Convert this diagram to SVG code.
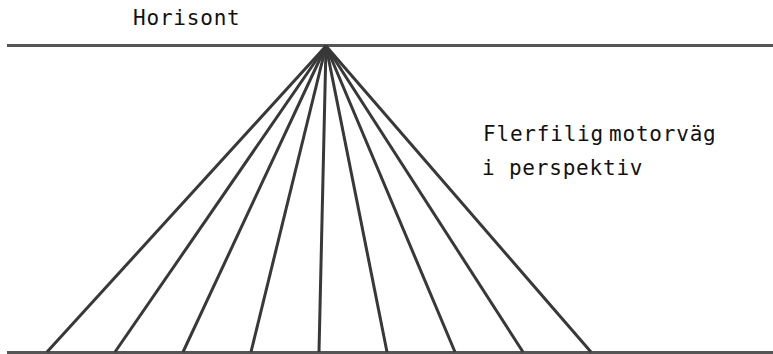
<svg xmlns="http://www.w3.org/2000/svg" width="773" height="354" viewBox="0 0 773 354">
<style>
.edge{stroke:#555;stroke-width:3;fill:none}
.ray{stroke:#383838;stroke-width:3;fill:none}
.lbl{font-family:"DejaVu Sans Mono","Liberation Mono",monospace;fill:#111;font-size:21px;letter-spacing:0.8px}
</style>
<rect width="773" height="354" fill="#fff"/>
<g id="horizon">
<line class="edge" x1="7" y1="45.5" x2="773" y2="45.5"/>
<text class="lbl" x="133" y="25">Horisont</text>
</g>
<g id="ground">
<line class="edge" x1="7" y1="352.5" x2="773" y2="352.5"/>
</g>
<g id="label">
<text class="lbl" x="483" y="141">Flerfilig <tspan x="609">motorväg</tspan></text>
<text class="lbl" x="482" y="175">i perspektiv</text>
</g>
<g id="connectors">
<line class="ray" x1="326" y1="46" x2="47" y2="352"/>
<line class="ray" x1="326" y1="46" x2="115" y2="352"/>
<line class="ray" x1="326" y1="46" x2="183" y2="352"/>
<line class="ray" x1="326" y1="46" x2="251" y2="352"/>
<line class="ray" x1="326" y1="46" x2="319" y2="352"/>
<line class="ray" x1="326" y1="46" x2="387" y2="352"/>
<line class="ray" x1="326" y1="46" x2="455" y2="352"/>
<line class="ray" x1="326" y1="46" x2="523" y2="352"/>
<line class="ray" x1="326" y1="46" x2="591" y2="352"/>
</g>
</svg>
